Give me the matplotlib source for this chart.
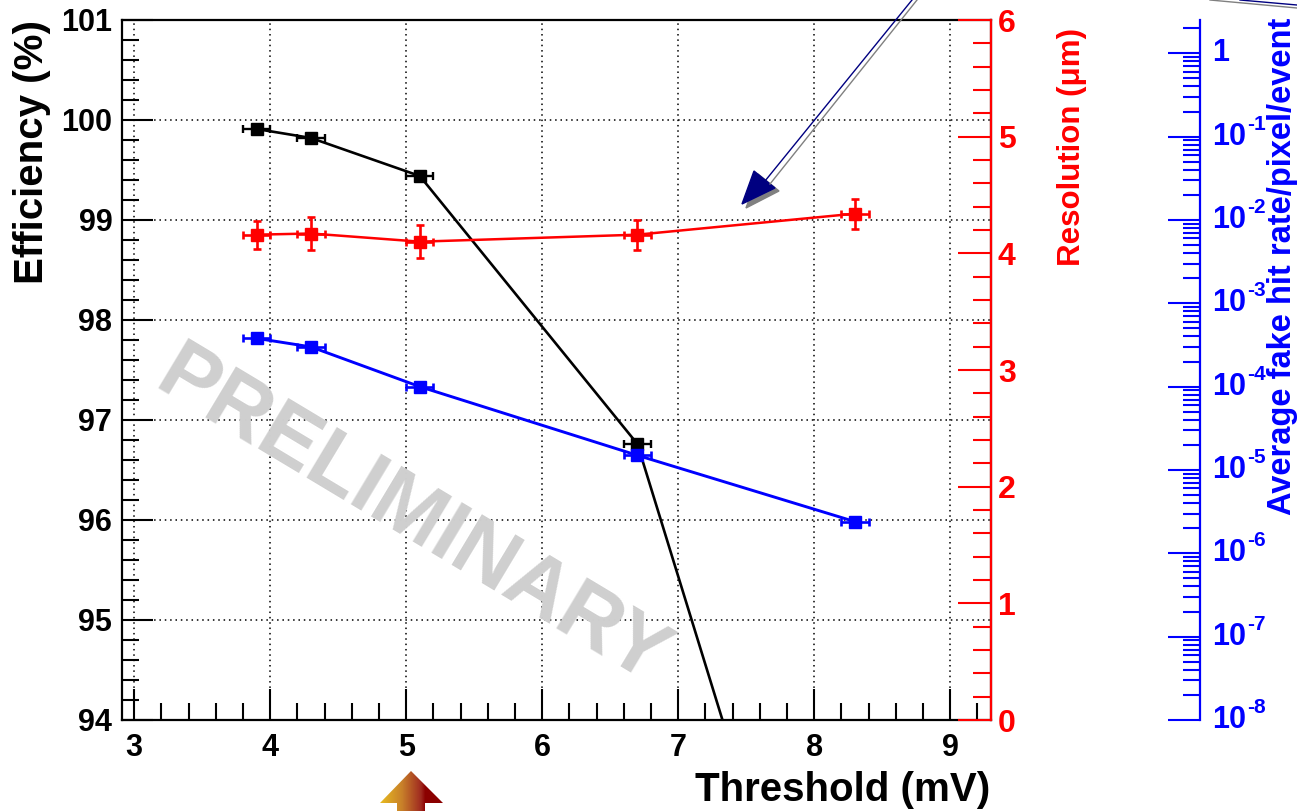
import numpy as np
import matplotlib
matplotlib.use("Agg")
import matplotlib.pyplot as plt
import matplotlib.transforms as mtrans
from matplotlib.ticker import MultipleLocator, FixedLocator, NullFormatter, LogLocator
from matplotlib.patches import Polygon

plt.rcParams['font.family'] = ['Liberation Sans', 'DejaVu Sans']
plt.rcParams['font.weight'] = 'bold'

# ---------------- data ----------------
threshold = [3.9, 4.3, 5.1, 6.7, 8.3]
threshold_err = [0.1, 0.1, 0.1, 0.1, 0.1]
efficiency = [99.91, 99.82, 99.44, 96.76, 89.7]
resolution = [4.16, 4.17, 4.10, 4.16, 4.34]
resolution_err = [0.12, 0.14, 0.14, 0.13, 0.13]
fake_rate = [3.8e-4, 3.0e-4, 1.0e-4, 1.5e-5, 2.4e-6]

x_ticks = [3, 4, 5, 6, 7, 8, 9]
eff_ticks = [94, 95, 96, 97, 98, 99, 100, 101]
res_ticks = [0, 1, 2, 3, 4, 5, 6]
fake_exponents = [-8, -7, -6, -5, -4, -3, -2, -1, 0]

W, H = 1297, 811
fig = plt.figure(figsize=(W / 100, H / 100), dpi=100)
fig.patch.set_facecolor('white')

L, R, T, B = 122, 991, 20, 720
ax = fig.add_axes([L / W, 1 - B / H, (R - L) / W, (B - T) / H])
ax.set_xlim(2.91, 9.30)
ax.set_ylim(94, 101)

ax.xaxis.set_major_locator(FixedLocator(x_ticks))
ax.xaxis.set_minor_locator(MultipleLocator(0.2))
ax.yaxis.set_major_locator(FixedLocator(eff_ticks))
ax.yaxis.set_minor_locator(MultipleLocator(0.2))
ax.set_xticklabels([str(v) for v in x_ticks])
ax.set_yticklabels([str(v) for v in eff_ticks])
ax.tick_params(which='both', direction='in', top=False, right=False, width=1.5, color='black')
ax.tick_params(which='major', length=22)
ax.tick_params(which='minor', length=12)
ax.tick_params(axis='y', labelsize=22, pad=7)
ax.tick_params(axis='x', labelsize=22, pad=9)
for s in ax.spines.values():
    s.set_linewidth(1.6)
ax.grid(True, which='major', color='black', linestyle=(0, (1, 2.5)), linewidth=1.1)
ax.set_axisbelow(True)

# efficiency (black)
ax.errorbar(threshold, efficiency, xerr=threshold_err, color='black', marker='s',
            markersize=9, linewidth=1.9, elinewidth=1.7, capsize=3, capthick=1.7, zorder=3)

# resolution (red)
ax2 = ax.twinx()
ax2.set_ylim(0, 6)
ax2.yaxis.set_major_locator(FixedLocator(res_ticks))
ax2.yaxis.set_minor_locator(MultipleLocator(0.2))
ax2.set_yticklabels([str(v) for v in res_ticks])
ax2.tick_params(which='both', direction='in', colors='red', width=1.5, labelsize=23, pad=5)
ax2.tick_params(which='major', length=24)
ax2.tick_params(which='minor', length=13)
for k in ['top', 'bottom', 'left']:
    ax2.spines[k].set_visible(False)
ax2.spines['right'].set_color('red')
ax2.spines['right'].set_linewidth(1.6)
ax2.errorbar(threshold, resolution, xerr=threshold_err, yerr=resolution_err, color='red',
             marker='s', markersize=9, linewidth=1.8, elinewidth=1.9, capsize=3, capthick=1.9)

# fake hit rate (blue, log)
ax3 = ax.twinx()
ax3.set_yscale('log')
ax3.set_ylim(1e-8, 10 ** 0.4)
for k in ['top', 'bottom', 'left']:
    ax3.spines[k].set_visible(False)
blue_pos = (1200 - L) / (R - L)
ax3.spines['right'].set_position(('axes', blue_pos))
ax3.spines['right'].set_color('blue')
ax3.spines['right'].set_linewidth(1.6)
ax3.yaxis.set_major_locator(FixedLocator([10.0 ** e for e in fake_exponents]))
ax3.yaxis.set_major_formatter(NullFormatter())
ax3.yaxis.set_minor_locator(LogLocator(base=10, subs=np.arange(2, 10), numticks=20))
ax3.yaxis.set_minor_formatter(NullFormatter())
ax3.tick_params(which='both', direction='in', colors='blue', width=1.5)
ax3.tick_params(which='major', length=23)
ax3.tick_params(which='minor', length=12)
ax3.errorbar(threshold, fake_rate, xerr=threshold_err, color='blue', marker='s',
             markersize=9, linewidth=2.1, elinewidth=1.9, capsize=3, capthick=1.9)

# blue tick labels drawn as base + superscript (hyphen style)
btr = mtrans.blended_transform_factory(ax3.transAxes, ax3.transData)
lab_x = (1212 - L) / (R - L)
for e in fake_exponents:
    v = 10.0 ** e
    if e == 0:
        ax3.text(lab_x, v, '1', transform=btr, ha='left', va='center', fontsize=22,
                 color='blue', fontweight='bold', clip_on=False)
    else:
        ax3.text(lab_x, v, '10', transform=btr, ha='left', va='center', fontsize=22,
                 color='blue', fontweight='bold', clip_on=False)
        sup_tr = btr + mtrans.ScaledTranslation(25.5 / 72, 9 / 72, fig.dpi_scale_trans)
        ax3.text(lab_x, v, '-%d' % (-e), transform=sup_tr, ha='left', va='center',
                 fontsize=15, color='blue', fontweight='bold', clip_on=False)

# axis titles
fig.text(32 / W, 1 - 20 / H, 'Efficiency (%)', rotation=90, ha='center', va='top',
         fontsize=29, fontweight='bold')
fig.text(990 / W, 1 - 790 / H, 'Threshold (mV)', ha='right', va='center',
         fontsize=29, fontweight='bold')
fig.text(1072 / W, 1 - 28 / H, u'Resolution (\u03bcm)', rotation=90, ha='center', va='top',
         fontsize=22.5, fontweight='bold', color='red')
fig.text(1283 / W, 1 - 18 / H, 'Average fake hit rate/pixel/event', rotation=90, ha='center',
         va='top', fontsize=23.5, fontweight='bold', color='blue')

# watermark
fig.text(412 / W, 1 - 518 / H, 'PRELIMINARY', rotation=-31, ha='center', va='center',
         fontsize=61, fontweight='bold', color='#cfcfcf', rotation_mode='anchor', zorder=0)

# overlay annotations (pixel space)
ov = fig.add_axes([0, 0, 1, 1], zorder=10)
ov.set_xlim(0, W)
ov.set_ylim(H, 0)
ov.axis('off')
ov.patch.set_alpha(0)
# navy arrow with shadow
ov.plot([917, 770], [0, 184], color='#808080', linewidth=1.0)
ov.plot([912, 765], [0, 181], color='#000080', linewidth=1.0)
ov.add_patch(Polygon([[746, 208], [758, 174], [779, 191]], closed=True, color='#808080'))
ov.add_patch(Polygon([[742, 204], [754, 171], [775, 188]], closed=True, color='#000080'))
ov.plot([1210, 1297], [0, 8], color='#808080', linewidth=1.0)
ov.plot([1240, 1297], [0, 5], color='#000080', linewidth=1.0)
# gradient block arrow
arrow_pts = [[411, 771], [443, 803], [425, 803], [425, 811], [397, 811], [397, 803], [380, 803]]
poly = Polygon(arrow_pts, closed=True, facecolor='none', edgecolor='none')
ov.add_patch(poly)
grad = np.linspace(0, 1, 256).reshape(1, -1)
cmap = matplotlib.colors.LinearSegmentedColormap.from_list(
    'g', [(0.0, '#e8bc20'), (0.35, '#c8802a'), (0.65, '#a02a20'), (0.72, '#8b0000'), (1.0, '#8b0000')])
im = ov.imshow(grad, extent=[380, 443, 811, 771], cmap=cmap, aspect='auto', interpolation='bilinear')
im.set_clip_path(poly)
ov.set_xlim(0, W)
ov.set_ylim(H, 0)

fig.savefig('out.png', dpi=100, facecolor='white')
